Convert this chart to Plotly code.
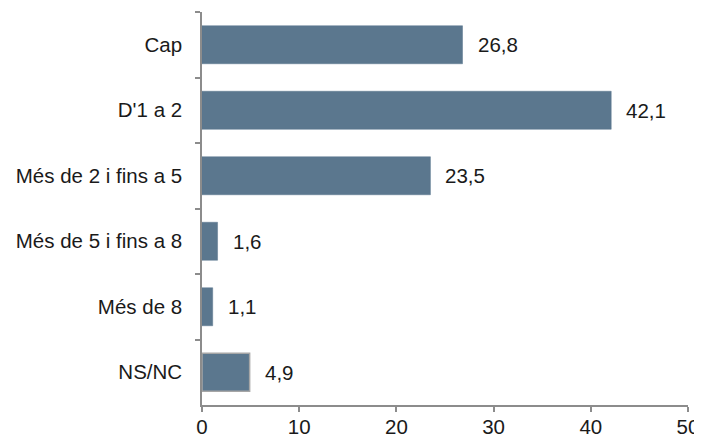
import plotly.graph_objects as go

categories = ["Cap", "D'1 a 2", "Més de 2 i fins a 5", "Més de 5 i fins a 8", "Més de 8", "NS/NC"]
values = [26.8, 42.1, 23.5, 1.6, 1.1, 4.9]
x_ticks = [0, 10, 20, 30, 40, 50]

bar_color = "#5B778E"
line_colors = [bar_color] * 5 + ["#A6A6A6"]
line_widths = [0.5] * 5 + [1.5]
font_family = "Liberation Sans, Arial"

fig = go.Figure()
fig.add_trace(go.Bar(
    y=categories, x=values, orientation="h",
    marker=dict(color=bar_color, line=dict(color=line_colors, width=line_widths)),
    width=0.58, hoverinfo="skip",
))

for c, v in zip(categories, values):
    fig.add_annotation(x=v, y=c, text=f"{v:.1f}".replace(".", ","),
                       xanchor="left", yanchor="middle", xshift=13, showarrow=False,
                       font=dict(size=20.5, color="#1a1a1a", family=font_family))

# page body has an 8px margin, so the figure is sized to the visible area
fig.update_layout(
    width=694, height=430,
    margin=dict(l=194, r=14, t=4, b=33),
    plot_bgcolor="white", paper_bgcolor="white",
    showlegend=False,
    font=dict(family=font_family, size=20.5, color="#1a1a1a"),
    xaxis=dict(range=[0, 50], tickvals=x_ticks, ticktext=[str(t) for t in x_ticks],
               showgrid=False, zeroline=False, showline=True, linecolor="#8C8C8C", linewidth=1.5,
               ticks="outside", ticklen=5, tickcolor="#8C8C8C", tickwidth=1.5,
               ticklabelstandoff=-2, ticklabeloverflow="allow", automargin=False),
    yaxis=dict(categoryorder="array", categoryarray=categories, autorange="reversed",
               tickson="boundaries", ticks="outside", ticklen=5, tickcolor="#8C8C8C", tickwidth=1.5,
               showgrid=False, zeroline=False, showline=True, linecolor="#8C8C8C", linewidth=1.5,
               ticklabelstandoff=14, automargin=False),
)

fig.write_html("out.html")
